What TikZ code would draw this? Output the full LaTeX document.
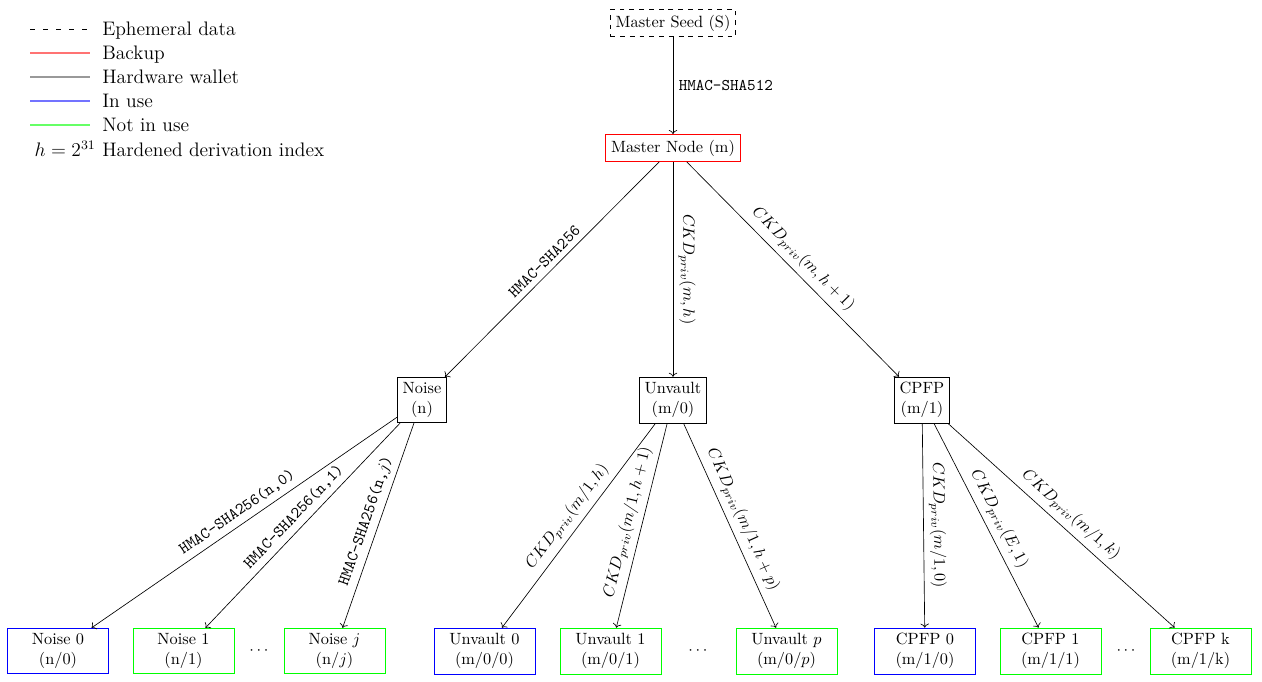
\documentclass[tikz,border=0pt]{standalone}
\usetikzlibrary{arrows.meta}
\begin{document}
\begin{tikzpicture}[x=0.6135pt,y=-0.6135pt,
  box/.style={draw, align=center},
  leaf/.style={box, minimum width=62pt},
  lbl/.style={midway, sloped, above},
  conn/.style={->},
  legtxt/.style={anchor=west, font=\large, text height=1.6ex, text depth=.4ex, inner sep=0pt},
  legline/.style={line width=0.75pt}]
\useasboundingbox (0,0) rectangle (1262,682);

% legend
\draw[line width=0.4pt, dash pattern=on 3pt off 5pt] (30,29) coordinate (l1a) -- (90,29) coordinate (l1b);
\draw[legline, draw=red!55] (30,53) coordinate (l2a) -- (90,53) coordinate (l2b);
\draw[legline, draw=gray!80] (30,77) coordinate (l3a) -- (90,77) coordinate (l3b);
\draw[legline, draw=blue!55] (30,101) coordinate (l4a) -- (90,101) coordinate (l4b);
\draw[legline, draw=green!60] (30,125) coordinate (l5a) -- (90,125) coordinate (l5b);
\node[legtxt] (t1) at (102,31) {Ephemeral data};
\node[legtxt] (t2) at (102,55) {Backup};
\node[legtxt] (t3) at (102,79) {Hardware wallet};
\node[legtxt] (t4) at (102,103) {In use};
\node[legtxt] (t5) at (102,127) {Not in use};
\node[legtxt] (t6) at (102,152) {Hardened derivation index};
\node[font=\large, inner sep=0pt, text height=1.6ex, text depth=.4ex, anchor=east] (t6h) at (96,152) {$h=2^{31}$};

% top nodes
\node[box, dashed] (S) at (673,23) {Master Seed (S)};
\node[box, draw=red] (m) at (673,148) {Master Node (m)};
\node[box] (n) at (422,400) {Noise\\(n)};
\node[box] (u) at (673,400) {Unvault\\(m/0)};
\node[box] (c) at (922,400) {CPFP\\(m/1)};

% leaves
\node[leaf, draw=blue] (n0) at (58,651) {Noise 0\\(n/0)};
\node[leaf, draw=green] (n1) at (183.5,651) {Noise 1\\(n/1)};
\node (nd) at (259,651) {$\cdots$};
\node[leaf, draw=green] (nj) at (334.5,651) {Noise $j$\\(n/$j$)};
\node[leaf, draw=blue] (u0) at (484.5,651) {Unvault 0\\(m/0/0)};
\node[leaf, draw=green] (u1) at (610.5,651) {Unvault 1\\(m/0/1)};
\node (ud) at (698,651) {$\cdots$};
\node[leaf, draw=green] (up) at (786.5,651) {Unvault $p$\\(m/0/$p$)};
\node[leaf, draw=blue] (c0) at (925,651) {CPFP 0\\(m/1/0)};
\node[leaf, draw=green] (c1) at (1050.5,651) {CPFP 1\\(m/1/1)};
\node (cd) at (1126,651) {$\cdots$};
\node[leaf, draw=green] (ck) at (1200.5,651) {CPFP k\\(m/1/k)};

% connectors
\draw[conn] (S) -- node[midway, right, font=\ttfamily] {HMAC-SHA512} (m);
\draw[conn] (m) -- node[lbl, font=\ttfamily] {HMAC-SHA256} (n);
\draw[conn] (m) -- node[lbl] {$CKD_{priv}(m,h)$} (u);
\draw[conn] (m) -- node[lbl] {$CKD_{priv}(m,h+1)$} (c);

\draw[conn] (n) -- node[lbl, font=\ttfamily] {HMAC-SHA256(n,0)} (n0);
\draw[conn] (n) -- node[lbl, font=\ttfamily] {HMAC-SHA256(n,1)} (n1);
\draw[conn] (n) -- node[lbl, font=\ttfamily] {HMAC-SHA256(n,$j$)} (nj);

\draw[conn] (u) -- node[lbl] {$CKD_{priv}(m/1,h)$} (u0);
\draw[conn] (u) -- node[lbl] {$CKD_{priv}(m/1,h+1)$} (u1);
\draw[conn] (u) -- node[lbl] {$CKD_{priv}(m/1,h+p)$} (up);

\draw[conn] (c) -- node[lbl] {$CKD_{priv}(m/1,0)$} (c0);
\draw[conn] (c) -- node[lbl] {$CKD_{priv}(E,1)$} (c1);
\draw[conn] (c) -- node[lbl] {$CKD_{priv}(m/1,k)$} (ck);
\end{tikzpicture}
\end{document}
